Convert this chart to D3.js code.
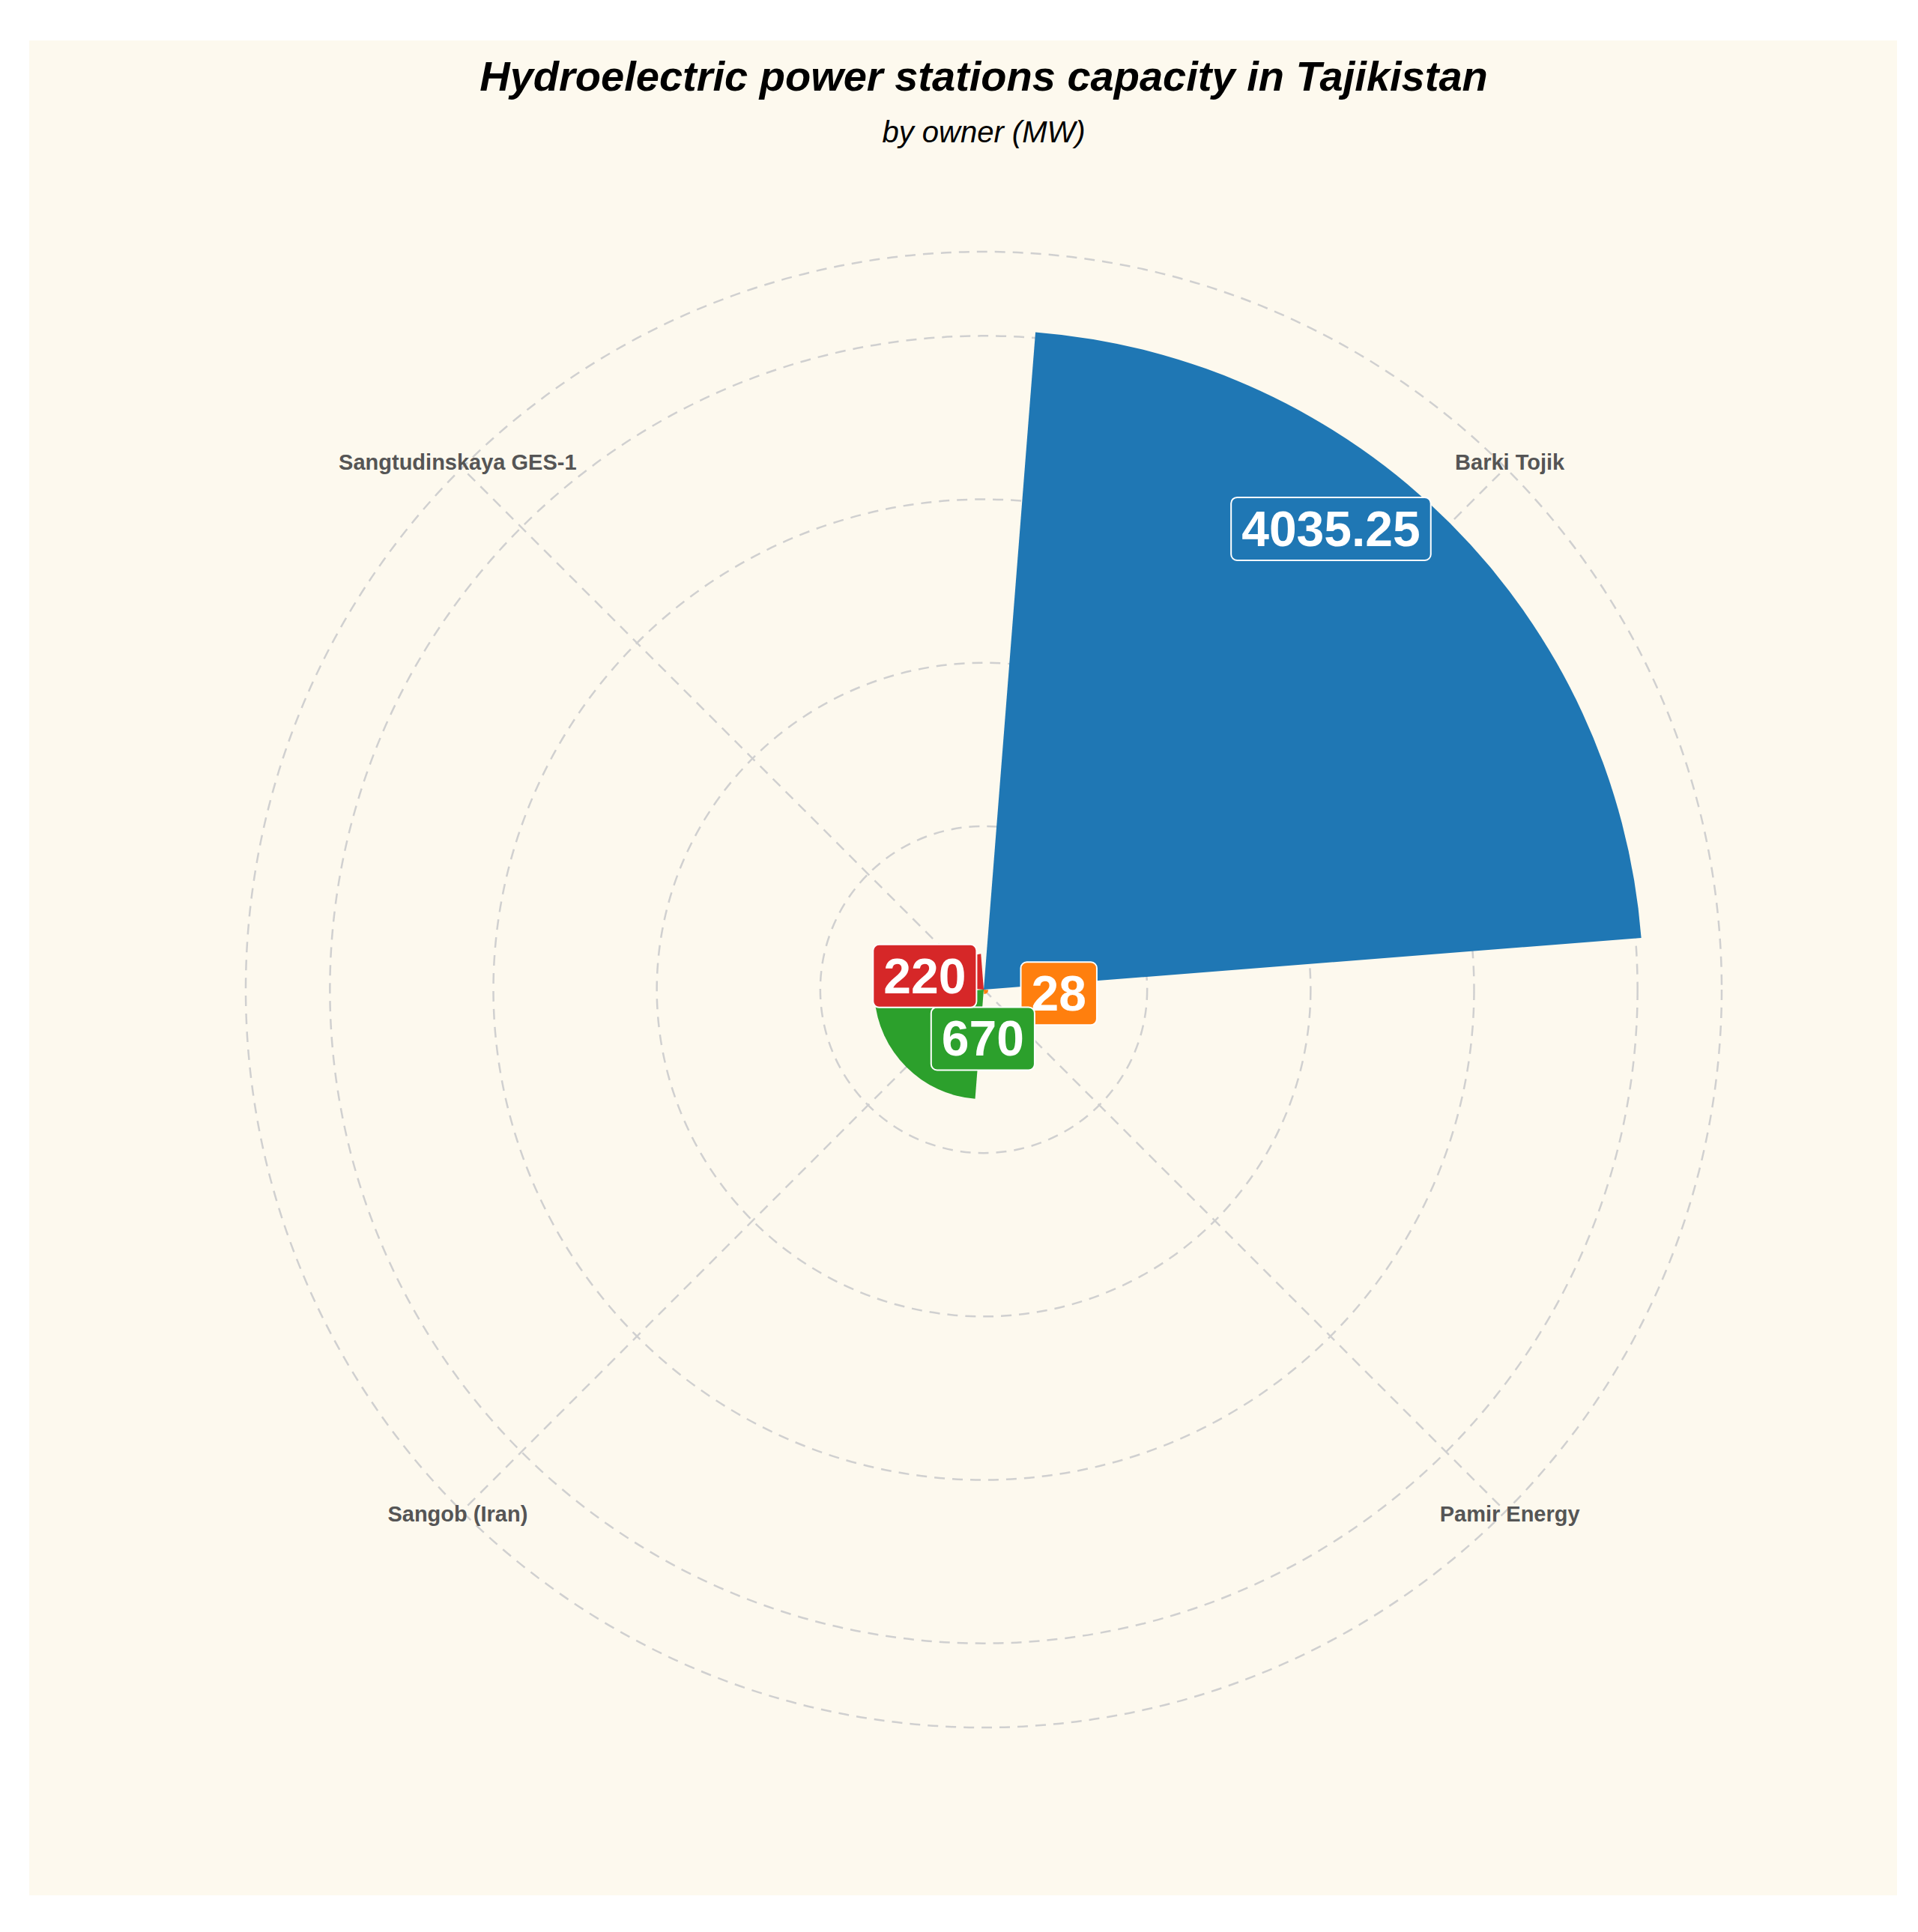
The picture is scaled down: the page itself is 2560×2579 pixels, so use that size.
<!DOCTYPE html>
<html><head><meta charset="utf-8">
<script src="https://cdn.jsdelivr.net/npm/d3@7"></script>
<style>body{margin:0;background:#fff}</style>
</head><body><div id="chart"></div>
<script>
const owners = ["Barki Tojik", "Pamir Energy", "Sangob (Iran)", "Sangtudinskaya GES-1"]
const capacity = [4035.25, 28, 670, 220]
const colors = ["#1f77b4", "#ff7f0e", "#2ca02c", "#d62728"]
const ringTicks = [1000, 2000, 3000, 4000]
// label anchor: angle (deg, clockwise from north) and radius in MW units
const labelAngle = [37, 93, 181, 283]
const labelRadius = [3530, 460, 300, 370]

const w = 2560, h = 2579
const cx = 1313, cy = 1321
const rMax = 4515

const svg = d3.select("#chart").append("svg")
    .attr("width", w).attr("height", h)
    .style("font-family", "Liberation Sans, Arial, sans-serif")

svg.append("rect").attr("x", 39).attr("y", 54).attr("width", 2493).attr("height", 2476).attr("fill", "#fdf9ee")

const r = d3.scaleLinear().domain([0, rMax]).range([0, 985])
const angle = d3.scaleBand().domain(owners).range([0, 2 * Math.PI]).paddingInner(0.1).paddingOuter(0.05)

const g = svg.append("g").attr("transform", `translate(${cx},${cy})`)

// grid
g.selectAll("circle.ring").data(ringTicks.concat([rMax])).join("circle")
    .attr("r", d => r(d)).attr("fill", "none")
    .attr("stroke", "#d0d0d0").attr("stroke-width", 2.5).attr("stroke-dasharray", "14,10")

const mid = d => angle(d) + angle.bandwidth() / 2
g.selectAll("line.spoke").data(owners).join("line")
    .attr("x1", 0).attr("y1", 0)
    .attr("x2", d => r(rMax) * Math.sin(mid(d)))
    .attr("y2", d => -r(rMax) * Math.cos(mid(d)))
    .attr("stroke", "#d0d0d0").attr("stroke-width", 2.5).attr("stroke-dasharray", "14,10")

// bars
const arc = d3.arc().innerRadius(0)
g.selectAll("path.bar").data(owners).join("path")
    .attr("d", (d, i) => arc({outerRadius: r(capacity[i]), startAngle: angle(d), endAngle: angle(d) + angle.bandwidth()}))
    .attr("fill", (d, i) => colors[i])

// category labels
g.selectAll("text.cat").data(owners).join("text")
    .attr("x", d => 993 * Math.sin(mid(d)))
    .attr("y", d => -993 * Math.cos(mid(d)))
    .attr("text-anchor", "middle").attr("dominant-baseline", "middle")
    .attr("font-size", 29).attr("font-weight", "bold").attr("fill", "#555")
    .text(d => d)

// value labels
owners.forEach((d, i) => {
    const a = labelAngle[i] * Math.PI / 180
    const x = r(labelRadius[i]) * Math.sin(a), y = -r(labelRadius[i]) * Math.cos(a)
    const lg = g.append("g").attr("transform", `translate(${x},${y})`)
    const t = lg.append("text").attr("text-anchor", "middle").attr("dominant-baseline", "central")
        .attr("font-size", 66).attr("font-weight", "bold").attr("fill", "#fff")
        .text(String(capacity[i]))
    const bb = t.node().getBBox()
    lg.insert("rect", "text")
        .attr("x", bb.x - 14).attr("y", -42).attr("width", bb.width + 28).attr("height", 84)
        .attr("rx", 8).attr("fill", colors[i]).attr("stroke", "#fff").attr("stroke-width", 2)
})

svg.append("text").attr("x", 1313).attr("y", 121).attr("text-anchor", "middle")
    .attr("font-size", 56).attr("font-weight", "bold").attr("font-style", "italic")
    .text("Hydroelectric power stations capacity in Tajikistan")
svg.append("text").attr("x", 1313).attr("y", 190).attr("text-anchor", "middle")
    .attr("font-size", 40).attr("font-style", "italic")
    .text("by owner (MW)")
</script></body></html>
